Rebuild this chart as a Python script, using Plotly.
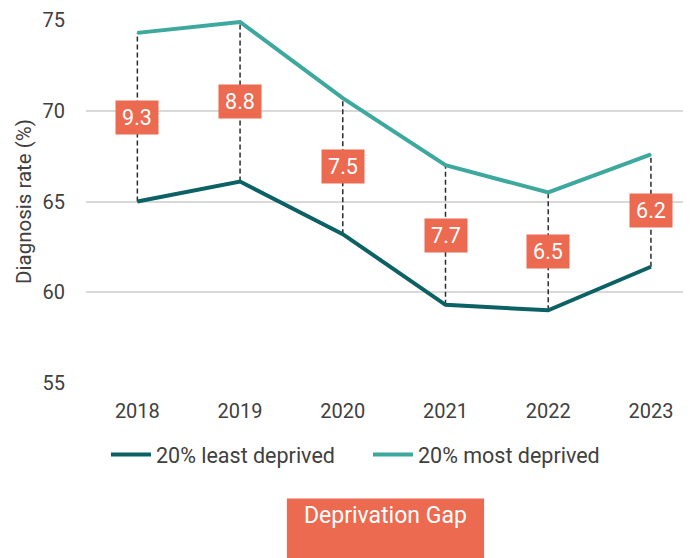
import plotly.graph_objects as go

years = ["2018", "2019", "2020", "2021", "2022", "2023"]
least_deprived = [65.0, 66.1, 63.2, 59.3, 59.0, 61.4]
most_deprived = [74.3, 74.9, 70.7, 67.0, 65.5, 67.6]
gap_labels = ["9.3", "8.8", "7.5", "7.7", "6.5", "6.2"]

DARK = "#0b6163"
LIGHT = "#3da89d"
ORANGE = "#ec6a50"
FONT = "Roboto"
TEXT = "#404040"

fig = go.Figure()

# dashed connectors between the two series
cx, cy = [], []
for yr, lo, hi in zip(years, least_deprived, most_deprived):
    cx += [yr, yr, None]
    cy += [lo, hi, None]
fig.add_trace(go.Scatter(
    x=cx, y=cy, mode="lines", showlegend=False, hoverinfo="skip",
    line=dict(color="#2b2b2b", width=1.5, dash="5px,3px"),
))

fig.add_trace(go.Scatter(
    x=years, y=least_deprived, mode="lines", name="20% least deprived",
    line=dict(color=DARK, width=4),
))
fig.add_trace(go.Scatter(
    x=years, y=most_deprived, mode="lines", name="20% most deprived",
    line=dict(color=LIGHT, width=4),
))

# gap labels at the midpoint of each connector (category index on x)
for i, (lo, hi, lab) in enumerate(zip(least_deprived, most_deprived, gap_labels)):
    fig.add_annotation(
        x=i, y=(lo + hi) / 2, xref="x", yref="y", text=lab, showarrow=False,
        bgcolor=ORANGE, width=42, height=33, borderpad=0,
        font=dict(family=FONT, size=21.5, color="white"),
    )

# "Deprivation Gap" key box
fig.add_shape(
    type="rect", xref="paper", yref="paper",
    x0=0.332, x1=0.658, y0=-0.5, y1=-0.318,
    fillcolor=ORANGE, line=dict(width=0),
)
fig.add_annotation(
    xref="paper", yref="paper", x=0.495, y=-0.408,
    text="Deprivation Gap", showarrow=False,
    font=dict(family=FONT, size=23, color="white"),
)

fig.update_layout(
    width=683, height=550,
    margin=dict(l=78, r=0, t=10, b=175),
    paper_bgcolor="white", plot_bgcolor="white",
    font=dict(family=FONT, size=20, color=TEXT),
    showlegend=True,
    legend=dict(
        orientation="h", x=0.033, xanchor="left", y=-0.197, yanchor="middle",
        font=dict(family=FONT, size=21.5, color=TEXT),
        entrywidth=207, entrywidthmode="pixels",
        itemwidth=40, tracegroupgap=0,
    ),
    xaxis=dict(
        type="category",
        range=[-0.5, 5.39], showgrid=False, showline=False, zeroline=False,
        ticks="", ticklabelstandoff=14,
        tickfont=dict(family=FONT, size=20, color=TEXT),
    ),
    yaxis=dict(
        range=[54.99, 75.01], tickvals=[55, 60, 65, 70, 75],
        showgrid=True, gridcolor="#d9d9d9",
        gridwidth=1.5, zeroline=False, showline=False, ticks="",
        ticklabelstandoff=20, ticklabeloverflow="allow",
        tickfont=dict(family=FONT, size=20, color=TEXT),
        title=dict(text="Diagnosis rate (%)", standoff=5,
                   font=dict(family=FONT, size=20.5, color=TEXT)),
    ),
)

fig.write_html("out.html")
